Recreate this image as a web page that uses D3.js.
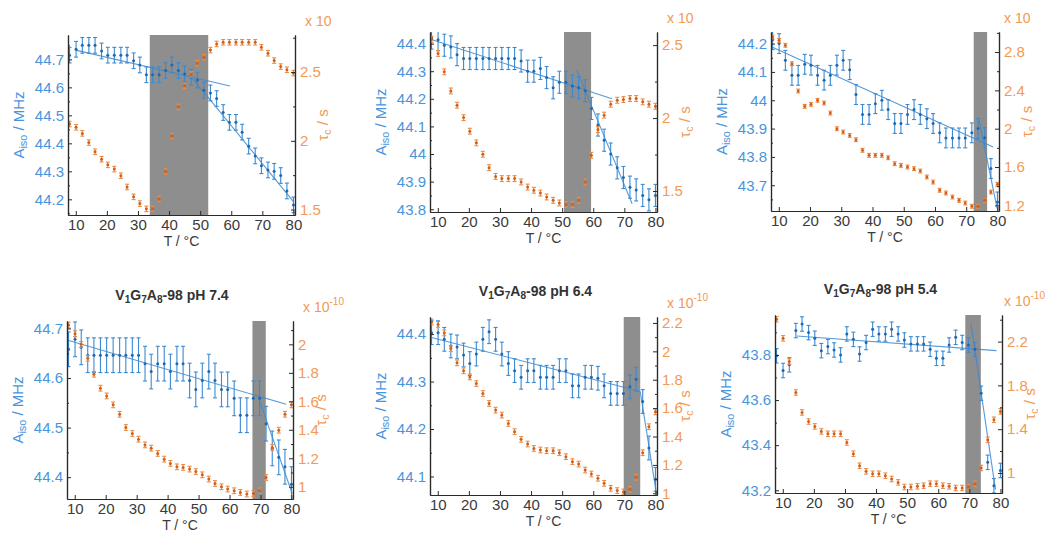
<!DOCTYPE html>
<html>
<head>
<meta charset="utf-8">
<script src="https://cdn.jsdelivr.net/npm/d3@7"></script>
<style>
  body { margin: 0; background: #fff; }
  svg { font-family: "Liberation Sans", Arial, sans-serif; }
</style>
</head>
<body>
<svg id="chart"></svg>
<script>
// temperatures (°C), same grid for every panel
const temps = [8, 10.1, 12.1, 14.2, 16.2, 18.3, 20.3, 22.4, 24.5, 26.5, 28.6, 30.6,
  32.7, 34.7, 36.8, 38.9, 40.9, 43, 45, 47.1, 49.1, 51.2, 53.3, 55.3, 57.4, 59.4,
  61.5, 63.5, 65.6, 67.7, 69.7, 71.8, 73.8, 75.9, 77.9, 80];

// A_iso (MHz), left axis
const aIso1 = [44.715,44.736,44.75,44.75,44.75,44.73,44.715,44.715,44.715,44.715,44.695,44.68,
  44.645,44.645,44.645,44.66,44.68,44.66,44.648,44.636,44.626,44.59,44.58,44.56,44.51,44.475,
  44.475,44.44,44.39,44.355,44.32,44.305,44.30,44.285,44.23,44.18];
const aIso2 = [44.42,44.414,44.394,44.388,44.36,44.346,44.346,44.346,44.346,44.346,44.346,44.346,
  44.346,44.346,44.337,44.30,44.30,44.31,44.277,44.24,44.26,44.26,44.246,44.24,44.229,44.165,
  44.105,44.05,44.0,43.95,43.915,43.88,43.87,43.85,43.834,43.85];
const aIso3 = [44.214,44.20,44.141,44.088,44.088,44.127,44.124,44.088,44.071,44.088,44.124,44.141,
  44.108,44.02,43.95,43.95,43.988,44.0,43.967,43.918,43.918,43.95,43.967,43.95,43.935,43.918,
  43.885,43.867,43.867,43.867,43.867,43.885,43.90,43.868,43.759,43.641];
const aIso4 = [44.658,44.678,44.662,44.646,44.646,44.646,44.646,44.646,44.646,44.646,44.646,44.646,
  44.629,44.613,44.629,44.629,44.613,44.629,44.629,44.595,44.577,44.595,44.613,44.595,44.577,
  44.577,44.559,44.525,44.525,44.559,44.559,44.508,44.458,44.44,44.421,44.386];
const aIso5 = [44.403,44.403,44.389,44.375,44.373,44.356,44.338,44.358,44.389,44.405,44.389,44.358,
  44.338,44.323,44.309,44.323,44.323,44.309,44.309,44.309,44.323,44.323,44.291,44.291,44.309,
  44.309,44.307,44.291,44.275,44.275,44.275,44.289,44.305,44.258,44.16,44.094];
const aIso6 = [43.796,43.731,43.756,43.908,43.937,43.899,43.874,43.819,43.837,43.822,43.80,43.893,
  43.869,43.804,43.855,43.914,43.893,43.893,43.914,43.893,43.866,43.849,43.849,43.849,43.825,
  43.785,43.785,43.844,43.878,43.855,43.844,43.825,43.63,43.324,43.22,43.288];

// tau_c (scaled), right axis
const tau1 = [2.122,2.098,2.054,1.987,1.92,1.866,1.825,1.794,1.746,1.664,1.592,1.543,1.505,1.505,
  1.577,1.777,2.035,2.247,2.40,2.483,2.565,2.608,2.66,2.705,2.717,2.717,2.717,2.717,2.717,2.717,
  2.68,2.637,2.584,2.54,2.517,2.493];
const tau2 = [2.54,2.443,2.317,2.186,2.088,2.003,1.91,1.83,1.752,1.66,1.60,1.585,1.585,1.585,1.562,
  1.527,1.505,1.486,1.459,1.436,1.418,1.408,1.408,1.436,1.562,1.745,1.921,2.02,2.095,2.122,2.127,
  2.134,2.134,2.111,2.095,2.081];
const tau3 = [2.957,2.922,2.87,2.678,2.393,2.233,2.254,2.296,2.268,2.163,2.0,1.965,1.93,1.885,1.774,
  1.722,1.722,1.722,1.697,1.635,1.617,1.60,1.583,1.558,1.496,1.443,1.357,1.329,1.287,1.252,1.224,
  1.19,1.19,1.252,1.339,1.419];
const tau4 = [2.136,2.075,2.0,1.902,1.79,1.692,1.638,1.575,1.509,1.416,1.374,1.334,1.294,1.271,1.234,
  1.194,1.164,1.14,1.136,1.124,1.107,1.084,1.054,1.023,1.0,0.984,0.972,0.96,0.949,0.953,0.972,
  1.065,1.276,1.397,1.509,1.575];
const tau5 = [2.207,2.19,2.13,2.02,1.919,1.863,1.82,1.773,1.703,1.633,1.586,1.551,1.492,1.434,1.38,
  1.347,1.316,1.305,1.30,1.30,1.286,1.258,1.223,1.206,1.164,1.136,1.106,1.07,1.035,1.019,1.010,
  1.028,1.113,1.286,1.469,1.574];
const tau6 = [2.404,2.23,2.018,1.735,1.553,1.47,1.425,1.379,1.358,1.358,1.358,1.279,1.176,1.066,1.015,
  0.993,0.993,0.975,0.945,0.914,0.872,0.872,0.878,0.884,0.902,0.902,0.884,0.878,0.863,0.863,0.872,
  0.902,1.045,1.303,1.486,1.562];

// error bar half widths per panel
const aErr = [0.028, 0.04, 0.035, 0.035, 0.025, 0.032];
const tauErr = [0.02, 0.02, 0.02, 0.02, 0.02, 0.025];

// shaded transition ranges (°C)
const bands = [[33.8, 52.6], [50.6, 59.3], [72.4, 76.7], [67.4, 71.7], [69.8, 75.1], [68.7, 73.7]];

// linear fits: [T1, A1, T2, A2]
const fits = [
  [[10, 44.733, 59.6, 44.605], [46.7, 44.644, 80, 44.192]],
  [[7.7, 44.416, 66, 44.2], [54.7, 44.304, 72.5, 43.82]],
  [[7.8, 44.188, 78.6, 43.835], [74.1, 43.93, 79.9, 43.618]],
  [[7.8, 44.676, 78.3, 44.547], [69.7, 44.554, 80.3, 44.366]],
  [[8, 44.393, 75.1, 44.279], [75.1, 44.279, 80.3, 44.065]],
  [[14.5, 43.884, 78.7, 43.819], [70.5, 43.94, 78.4, 43.203]]
];

const aDomains = [[44.144, 44.787], [43.79, 44.442], [43.609, 44.241], [44.356, 44.715], [44.061, 44.436], [43.188, 43.977]];
const tauDomains = [[1.46, 2.77], [1.356, 2.59], [1.141, 3.009], [0.914, 2.164], [0.988, 2.242], [0.817, 2.443]];
const aTicks = [
  [44.2, 44.3, 44.4, 44.5, 44.6, 44.7],
  [43.8, 43.9, 44, 44.1, 44.2, 44.3, 44.4],
  [43.7, 43.8, 43.9, 44, 44.1, 44.2],
  [44.4, 44.5, 44.6, 44.7],
  [44.1, 44.2, 44.3, 44.4],
  [43.2, 43.4, 43.6, 43.8]
];
const tauTicks = [
  [1.5, 2, 2.5],
  [1.5, 2, 2.5],
  [1.2, 1.6, 2, 2.4, 2.8],
  [1, 1.2, 1.4, 1.6, 1.8, 2],
  [1, 1.2, 1.4, 1.6, 1.8, 2, 2.2],
  [1, 1.4, 1.8, 2.2]
];
const xTicks = [10, 20, 30, 40, 50, 60, 70, 80];
const titles = [null, null, null, "V_{1}G_{7}A_{8}-98 pH 7.4", "V_{1}G_{7}A_{8}-98 pH 6.4", "V_{1}G_{7}A_{8}-98 pH 5.4"];
const expLabels = ["x 10", "x 10", "x 10", "x 10^{-10}", "x 10^{-10}", "x 10^{-10}"];

// layout of each axes box: left, top, right, bottom
const boxes = [
  [68, 35, 295, 215], [430, 32, 657, 212], [771, 32, 999, 211],
  [67, 321, 293, 499], [430, 317, 657, 495], [775, 315, 1002, 493]
];

const aSeries = [aIso1, aIso2, aIso3, aIso4, aIso5, aIso6];
const tauSeries = [tau1, tau2, tau3, tau4, tau5, tau6];

const BLUE = '#3b8ad2', BLUE_DOT = '#1e68b0', BLUE_TXT = '#4a94dc';
const ORANGE = '#ec8a40', ORANGE_DOT = '#d2601c', ORANGE_TXT = '#f29a55';
const AXIS = '#2a2a2a';
const FS = 15;

const svg = d3.select('#chart').attr('width', 1050).attr('height', 533);

// text with _{sub} and ^{sup} parts
function richText(sel, str, fs) {
  let shift = 0;
  str.split(/([_^]\{[^}]*\})/).forEach(p => {
    if (!p) return;
    if (p[0] === '_' || p[0] === '^') {
      let target = p[0] === '_' ? 3 : -7;
      sel.append('tspan').attr('dy', target - shift).attr('font-size', fs * 0.72).text(p.slice(2, -1));
      shift = target;
    } else {
      sel.append('tspan').attr('dy', -shift).attr('font-size', fs).text(p);
      shift = 0;
    }
  });
}

function midpoints(arr) {
  let out = [];
  for (let i = 0; i < arr.length - 1; i++) out.push((arr[i] + arr[i + 1]) / 2);
  let st = arr[1] - arr[0];
  out.push(arr[0] - st / 2, arr[arr.length - 1] + st / 2);
  return out;
}

boxes.forEach((b, k) => {
  let [l, t, r, bt] = b;
  let g = svg.append('g');

  let x = d3.scaleLinear().domain([7.5, 80.5]).range([l, r]);
  let yA = d3.scaleLinear().domain(aDomains[k]).range([bt, t]);
  let yT = d3.scaleLinear().domain(tauDomains[k]).range([bt, t]);

  let clipId = 'clip' + k;
  g.append('clipPath').attr('id', clipId)
    .append('rect').attr('x', l).attr('y', t).attr('width', r - l).attr('height', bt - t);
  let plot = g.append('g').attr('clip-path', `url(#${clipId})`);

  // grey band
  plot.append('rect')
    .attr('x', x(bands[k][0])).attr('y', t)
    .attr('width', x(bands[k][1]) - x(bands[k][0])).attr('height', bt - t)
    .attr('fill', '#8e8e8e');

  // fit lines
  plot.selectAll('line.fit').data(fits[k]).enter().append('line')
    .attr('class', 'fit')
    .attr('x1', d => x(d[0])).attr('y1', d => yA(d[1]))
    .attr('x2', d => x(d[2])).attr('y2', d => yA(d[3]))
    .attr('stroke', BLUE).attr('stroke-width', 1.1).attr('opacity', 0.85);

  // error bars + markers
  let drawSeries = function(vals, err, y, col, dot) {
    let pts = vals.map((v, i) => ({ t: temps[i], v: v }));
    let eg = plot.append('g').attr('stroke', col).attr('stroke-width', 1.1);
    eg.selectAll('line.v').data(pts).enter().append('line')
      .attr('x1', d => x(d.t)).attr('x2', d => x(d.t))
      .attr('y1', d => y(d.v - err)).attr('y2', d => y(d.v + err));
    eg.selectAll('line.lo').data(pts).enter().append('line')
      .attr('x1', d => x(d.t) - 2).attr('x2', d => x(d.t) + 2)
      .attr('y1', d => y(d.v - err)).attr('y2', d => y(d.v - err));
    eg.selectAll('line.hi').data(pts).enter().append('line')
      .attr('x1', d => x(d.t) - 2).attr('x2', d => x(d.t) + 2)
      .attr('y1', d => y(d.v + err)).attr('y2', d => y(d.v + err));
    plot.append('g').selectAll('circle').data(pts).enter().append('circle')
      .attr('cx', d => x(d.t)).attr('cy', d => y(d.v))
      .attr('r', 1.5).attr('fill', dot);
  };
  drawSeries(aSeries[k], aErr[k], yA, BLUE, BLUE_DOT);
  drawSeries(tauSeries[k], tauErr[k], yT, ORANGE, ORANGE_DOT);

  // axes (MATLAB style, ticks pointing inward)
  let styleAxis = function(sel, txtCol) {
    sel.selectAll('path.domain').attr('stroke', AXIS).attr('stroke-width', 1.2);
    sel.selectAll('.tick line').attr('stroke', AXIS);
    sel.selectAll('.tick text').attr('fill', txtCol)
      .attr('font-size', FS).attr('font-family', '"Liberation Sans", Arial, sans-serif');
  };

  let fmt = d => String(+d.toFixed(2));

  g.append('g').attr('transform', `translate(0,${bt})`)
    .call(d3.axisBottom(x).tickValues(xTicks).tickFormat(d3.format('d'))
      .tickSizeInner(-4).tickSizeOuter(0).tickPadding(4))
    .call(s => styleAxis(s, '#3a3a3a'));

  let aMinor = midpoints(aTicks[k]).filter(v => v > aDomains[k][0] && v < aDomains[k][1]);
  g.append('g').attr('transform', `translate(${l},0)`)
    .call(d3.axisLeft(yA).tickValues(aMinor).tickFormat('').tickSizeInner(-2).tickSizeOuter(0))
    .call(s => styleAxis(s, BLUE_TXT));
  g.append('g').attr('transform', `translate(${l},0)`)
    .call(d3.axisLeft(yA).tickValues(aTicks[k]).tickFormat(fmt)
      .tickSizeInner(-4).tickSizeOuter(0).tickPadding(4))
    .call(s => styleAxis(s, BLUE_TXT));

  let tMinor = midpoints(tauTicks[k]).filter(v => v > tauDomains[k][0] && v < tauDomains[k][1]);
  g.append('g').attr('transform', `translate(${r},0)`)
    .call(d3.axisRight(yT).tickValues(tMinor).tickFormat('').tickSizeInner(-2).tickSizeOuter(0))
    .call(s => styleAxis(s, ORANGE_TXT));
  g.append('g').attr('transform', `translate(${r},0)`)
    .call(d3.axisRight(yT).tickValues(tauTicks[k]).tickFormat(fmt)
      .tickSizeInner(-4).tickSizeOuter(0).tickPadding(5))
    .call(s => styleAxis(s, ORANGE_TXT));

  // axis titles
  g.append('text').attr('x', (l + r) / 2).attr('y', bt + 31)
    .attr('text-anchor', 'middle').attr('font-size', 14).attr('fill', '#3a3a3a')
    .text('T / °C');

  let la = g.append('text')
    .attr('transform', `translate(${l - 44},${(t + bt) / 2}) rotate(-90)`)
    .attr('text-anchor', 'middle').attr('fill', BLUE_TXT);
  richText(la, 'A_{iso} / MHz', FS);

  let ra = g.append('text')
    .attr('transform', `translate(${r + 33},${(t + bt) / 2}) rotate(-90)`)
    .attr('text-anchor', 'middle').attr('fill', ORANGE_TXT);
  richText(ra, 'τ_{c} / s', FS);

  let ex = g.append('text').attr('x', Math.min(r + 10, 1004)).attr('y', t - 9)
    .attr('fill', ORANGE_TXT);
  richText(ex, expLabels[k], 14);

  if (titles[k]) {
    let tt = g.append('text').attr('x', (l + r) / 2 - 8).attr('y', t - 21)
      .attr('text-anchor', 'middle').attr('fill', '#333').attr('font-weight', 'bold');
    richText(tt, titles[k], 14);
  }
});
</script>
</body>
</html>
